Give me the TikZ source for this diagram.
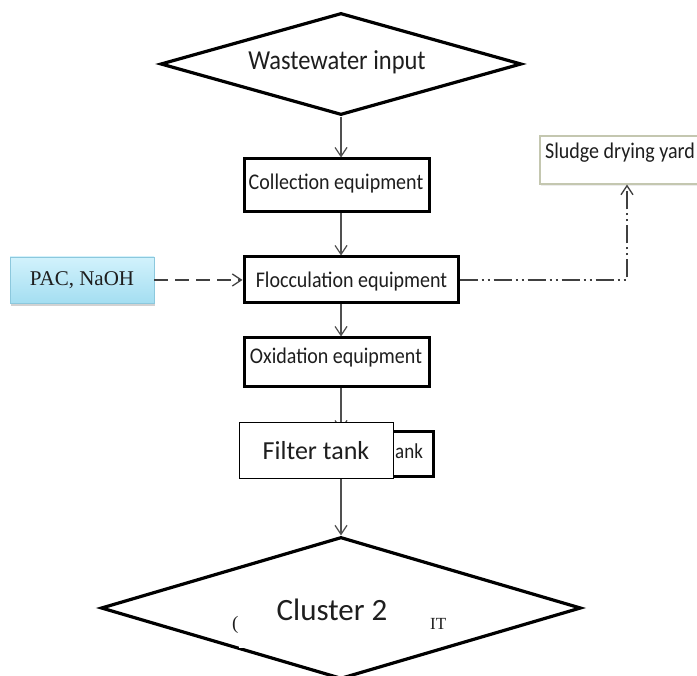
\documentclass[tikz,border=0pt]{standalone}
\usepackage{fontspec}
\setmainfont{Carlito}
\newfontfamily\serifrm{Liberation Serif}
\usetikzlibrary{shapes.geometric,arrows.meta,shadows}
\definecolor{linegray}{HTML}{505050}
\definecolor{dashgray}{HTML}{404040}
\definecolor{txtcol}{HTML}{1E1E1E}
\definecolor{pactop}{HTML}{D2F2FC}
\definecolor{pacbot}{HTML}{A4DEF1}
\definecolor{pacedge}{HTML}{8CC8DD}
\definecolor{sludgeedge}{HTML}{C4C7B0}
\newcommand{\talltxt}[1]{\scalebox{1}[1.12]{#1}}
\begin{document}
\begin{tikzpicture}[x=1pt,y=-1pt,
  dia/.style={draw=black, line width=3.2pt, shape=diamond, aspect=3.5, inner sep=0pt, fill=white},
  proc/.style={draw=black, line width=3pt, inner sep=0pt, fill=white},
  lbl/.style={inner sep=0pt, text=txtcol},
  boxlbl/.style={inner sep=0pt, text=txtcol, font=\fontsize{20}{24}\selectfont},
  flow/.style={draw=linegray, line width=1.2pt, -{Straight Barb[length=9pt,width=12pt,line width=1.2pt]}},
  dashflow/.style={draw=dashgray, line width=1.5pt, dash pattern=on 14pt off 7pt, -{Straight Barb[length=9pt,width=12pt,line width=1.3pt]}},
  ddflow/.style={draw=dashgray, line width=1.5pt, dash pattern=on 18pt off 4pt on 2pt off 4pt on 2pt off 4pt, -{Straight Barb[length=9pt,width=12pt,line width=1.3pt]}},
  pacbox/.style={draw=pacedge, line width=0.8pt, top color=pactop, bottom color=pacbot, inner sep=0pt, text=txtcol,
     drop shadow={opacity=0.35, shadow xshift=1pt, shadow yshift=-3pt}},
  sludgebox/.style={draw=sludgeedge, line width=1.2pt, fill=white, inner sep=0pt,
     drop shadow={opacity=0.15, shadow xshift=1pt, shadow yshift=-2pt}},
  cover/.style={fill=white, draw=none, inner sep=0pt, text=txtcol}
]
\useasboundingbox[fill=white] (0,0) rectangle (697,676);

% top diamond
\node[dia, minimum width=361pt, minimum height=102pt] (top) at (341,64) {};
\node[lbl, font=\fontsize{24.5}{28}\selectfont] (toplbl) at (337,62) {\talltxt{Wastewater input}};

% process boxes
\node[proc, minimum width=185pt, minimum height=53pt] (coll) at (336.5,185.5) {};
\node[boxlbl] (colllbl) at (336,184) {\talltxt{Collection equipment}};
\node[proc, minimum width=214pt, minimum height=46pt] (flocc) at (351,280) {};
\node[boxlbl] (flocclbl) at (351.5,282) {\talltxt{Flocculation equipment}};
\node[proc, minimum width=185pt, minimum height=49pt] (ox) at (336.5,362.5) {};
\node[boxlbl] (oxlbl) at (336,358) {\talltxt{Oxidation equipment}};
\node[proc, minimum width=184pt, minimum height=45pt] (oldf) at (341,454.5) {};
\node[lbl, anchor=base west, font=\fontsize{19}{22}\selectfont] (oldflbl) at (395,459) {\talltxt{ank}};

% side boxes
\node[pacbox, minimum width=144pt, minimum height=46pt, font=\serifrm\fontsize{21}{24}\selectfont] (pac) at (82,280) {PAC, NaOH};
\node[sludgebox, minimum width=174pt, minimum height=48pt] (sl) at (627,160) {};
\node[lbl, anchor=base west, font=\fontsize{20}{24}\selectfont] (sllbl) at (545,159) {\talltxt{Sludge drying yard}};

% bottom diamond
\node[dia, minimum width=480pt, minimum height=142pt] (bot) at (341,608) {};
\node[lbl, anchor=base west, font=\serifrm\fontsize{19}{22}\selectfont] (botold1) at (232,629) {(};
\node[lbl, anchor=base west, font=\serifrm\fontsize{17}{20}\selectfont] (botold2) at (430,629) {IT};

% connectors
\draw[flow] (top.south) -- (coll.north -| top.south);
\draw[flow] (coll.south -| top.south) -- (flocc.north -| top.south);
\draw[flow] (flocc.south -| top.south) -- (ox.north -| top.south);
\draw[flow] (ox.south -| top.south) -- (oldf.north);
\draw[flow] (oldf.south) -- (bot.north);
\draw[dashflow] (pac.east) -- (flocc.west);
\draw[ddflow] (flocc.east) -| (sl.south);

% overlays
\node[draw=black, line width=1pt, fill=white, inner sep=0pt, text=txtcol, minimum width=154pt, minimum height=56pt,
      font=\fontsize{26}{30}\selectfont] (filt) at (316,451) {Filter tank};
\node[cover, minimum width=186pt, minimum height=76pt, font=\fontsize{31}{36}\selectfont] (clus) at (332,610) {Cluster 2};
\end{tikzpicture}
\end{document}
